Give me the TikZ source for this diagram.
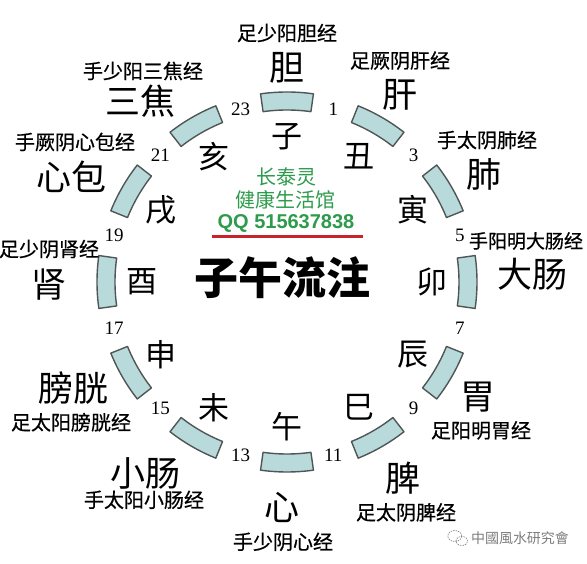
\documentclass[tikz,border=0pt]{standalone}
\usepackage{fontspec}
\setmainfont{Liberation Serif}
\newfontfamily\cjk{Noto Sans CJK SC}
\newfontfamily\cjkmed[FakeBold=0.6]{Noto Sans CJK SC}
\newfontfamily\qqfont{Liberation Sans}
\usetikzlibrary{positioning}

\definecolor{segfill}{RGB}{184,218,218}
\definecolor{segline}{RGB}{80,86,86}
\definecolor{shopgreen}{RGB}{45,155,75}
\definecolor{linered}{RGB}{200,35,40}
\definecolor{markgray}{RGB}{125,125,125}

\begin{document}
\begin{tikzpicture}[x=1pt, y=1pt,
    segment/.style={draw=segline, fill=segfill, line width=1.4pt, line join=round},
    branch/.style={font=\cjk\fontsize{31}{31}\selectfont, inner sep=0pt},
    organ/.style={font=\cjk\fontsize{35}{35}\selectfont, inner sep=0pt,
        text height=30pt, text depth=5pt},
    meridian/.style={font=\cjkmed\fontsize{20}{20}\selectfont, inner sep=0pt,
        text height=17pt, text depth=3pt},
    hour/.style={font=\fontsize{19}{19}\selectfont, inner sep=0pt},
    shop/.style={text=shopgreen, inner sep=0pt}]

    \useasboundingbox (-287,-282) rectangle (300,282);

    % Ring: segments and earthly branches
    \foreach \b [count=\i from 0] in {子,丑,寅,卯,辰,巳,午,未,申,酉,戌,亥} {
        \pgfmathsetmacro\ang{90-30*\i}
        \draw[segment] (\ang-8:190) arc[start angle=\ang-8, end angle=\ang+8, radius=190]
            -- (\ang+8:172) arc[start angle=\ang+8, end angle=\ang-8, radius=172] -- cycle;
        \node[branch] (br\i) at (\ang:145) {\b};
    }

    % Hours in the gaps
    \foreach \h [count=\i from 0] in {1,3,...,23}
        \node[hour] (h\h) at ({75-30*\i}:179) {\h};

    % Organs
    \node[organ] (dan) at (0,214) {胆};
    \node[organ] (gan) at (113,187) {肝};
    \node[organ] (fei) at (197,107) {肺};
    \node[organ] (dachang) at (245,7) {大肠};
    \node[organ] (wei) at (191,-115) {胃};
    \node[organ] (pi) at (116,-197) {脾};
    \node[organ] (xin) at (-5,-226) {心};
    \node[organ] (xiaochang) at (-141,-192) {小肠};
    \node[organ] (pangguang) at (-213,-107) {膀胱};
    \node[organ] (shen) at (-238,-3) {肾};
    \node[organ] (xinbao) at (-215,104) {心包};
    \node[organ] (sanjiao) at (-146,180) {三焦};

    % Meridians
    \node[meridian, above=6.5pt of dan] (dan-m) {足少阳胆经};
    \node[meridian, above=6pt of gan] (gan-m) {足厥阴肝经};
    \node[meridian, above=6.5pt of fei, xshift=3pt] (fei-m) {手太阴肺经};
    \node[meridian, above=6pt of dachang, xshift=-6pt, font=\cjkmed\fontsize{19}{19}\selectfont] (dachang-m) {手阳明大肠经};
    \node[meridian, below=6pt of wei, xshift=3pt] (wei-m) {足阳明胃经};
    \node[meridian, below=6pt of pi, xshift=3pt] (pi-m) {足太阴脾经};
    \node[meridian, below=6.5pt of xin, xshift=1pt] (xin-m) {手少阴心经};
    \node[meridian, below=-1.5pt of xiaochang, xshift=-2pt] (xiaochang-m) {手太阳小肠经};
    \node[meridian, below=6pt of pangguang, xshift=-3pt] (pangguang-m) {足太阳膀胱经};
    \node[meridian, above=7.5pt of shen] (shen-m) {足少阴肾经};
    \node[meridian, above=7.5pt of xinbao, xshift=3pt] (xinbao-m) {手厥阴心包经};
    \node[meridian, above=2.5pt of sanjiao, xshift=2pt] (sanjiao-m) {手少阳三焦经};

    % Centre
    \node[font=\cjk\bfseries\fontsize{44}{44}\selectfont, inner sep=0pt] (title) at (-4,4) {子午流注};
    \node[shop, font=\cjk\fontsize{20}{20}\selectfont] (shopname) at (0,105) {长泰灵};
    \node[shop, font=\cjk\fontsize{20}{20}\selectfont] (shophall) at (-1,82) {健康生活馆};
    \node[shop, font=\qqfont\bfseries\fontsize{20}{20}\selectfont] (qq) at (-1,59) {QQ 515637838};
    \coordinate (ul-l) at (-75,45.5);
    \coordinate (ul-r) at (76,45.5);
    \draw[linered, line width=2.6pt] (ul-l) -- (ul-r);

    % Watermark
    \node[font=\cjk\fontsize{14}{14}\selectfont, text=markgray, inner sep=0pt] (mark) at (233,-256) {中國風水研究會};
    \draw[markgray, line width=0.6pt, dash pattern=on 1.5pt off 1pt]
        ([xshift=-16pt,yshift=2pt]mark.west) ellipse [x radius=7, y radius=5.5]
        ([xshift=-9pt,yshift=-3pt]mark.west) ellipse [x radius=6, y radius=4.5];
\end{tikzpicture}
\end{document}
